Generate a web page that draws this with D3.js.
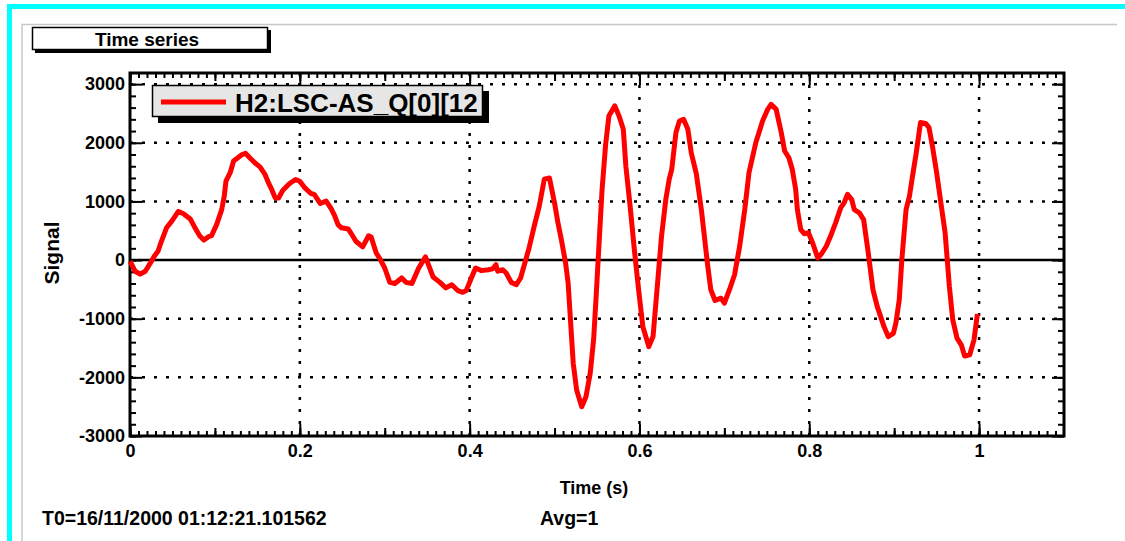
<!DOCTYPE html>
<html>
<head>
<meta charset="utf-8">
<script src="https://cdn.jsdelivr.net/npm/d3@7"></script>
<style>
  body { margin: 0; background: #fff; }
  text { font-family: "Liberation Sans", Arial, sans-serif; font-weight: bold; }
</style>
</head>
<body>
<div id="chart"></div>
<script>
// time series (seconds, signal)
var times = [0, 0.006, 0.012, 0.018, 0.024, 0.029, 0.033, 0.037, 0.043, 0.049,
  0.057, 0.063, 0.071, 0.076, 0.082, 0.087, 0.092, 0.096, 0.102, 0.108,
  0.111, 0.113, 0.118, 0.122, 0.127, 0.132, 0.136, 0.141, 0.147, 0.153,
  0.159, 0.163, 0.167, 0.171, 0.175, 0.180, 0.188, 0.195, 0.200, 0.206,
  0.213, 0.217, 0.224, 0.231, 0.237, 0.241, 0.245, 0.249, 0.257, 0.260,
  0.266, 0.274, 0.281, 0.284, 0.290, 0.295, 0.300, 0.306, 0.312, 0.320,
  0.325, 0.332, 0.340, 0.348, 0.357, 0.365, 0.372, 0.379, 0.386, 0.392,
  0.396, 0.402, 0.407, 0.414, 0.422, 0.427, 0.431, 0.433, 0.439, 0.443,
  0.449, 0.455, 0.460, 0.465, 0.470, 0.476, 0.482, 0.488, 0.494, 0.500,
  0.504, 0.508, 0.513, 0.516, 0.519, 0.522, 0.526, 0.532, 0.537, 0.542,
  0.546, 0.549, 0.552, 0.556, 0.560, 0.564, 0.571, 0.576, 0.581, 0.584,
  0.589, 0.594, 0.599, 0.604, 0.611, 0.616, 0.620, 0.626, 0.631, 0.635,
  0.638, 0.643, 0.647, 0.652, 0.657, 0.661, 0.667, 0.673, 0.680, 0.684,
  0.689, 0.696, 0.700, 0.706, 0.712, 0.718, 0.724, 0.729, 0.737, 0.745,
  0.751, 0.755, 0.761, 0.767, 0.771, 0.776, 0.780, 0.784, 0.786, 0.790,
  0.794, 0.799, 0.804, 0.810, 0.815, 0.820, 0.825, 0.831, 0.837, 0.841,
  0.845, 0.850, 0.853, 0.859, 0.864, 0.869, 0.875, 0.880, 0.888, 0.893,
  0.899, 0.902, 0.906, 0.909, 0.914, 0.918, 0.921, 0.926, 0.931, 0.937,
  0.941, 0.945, 0.950, 0.955, 0.960, 0.965, 0.969, 0.974, 0.979, 0.983,
  0.989, 0.994, 0.998];
var signal = [-20, -190, -240, -190, -50, 75, 150, 320, 550, 660,
  830, 790, 700, 565, 415, 340, 395, 415, 605, 860,
  1090, 1345, 1490, 1690, 1745, 1800, 1820, 1745, 1660, 1590,
  1460, 1320, 1200, 1060, 1060, 1190, 1305, 1375, 1345, 1230,
  1135, 1120, 965, 1005, 875, 760, 605, 550, 530, 465,
  320, 225, 415, 395, 120, 5, -135, -380, -400, -305,
  -380, -400, -135, 55, -290, -380, -475, -420, -520, -550,
  -520, -305, -135, -180, -165, -150, -80, -190, -165, -220,
  -380, -420, -305, -50, 205, 575, 920, 1380, 1400, 975,
  635, 350, -50, -390, -1075, -1760, -2215, -2500, -2330, -1930,
  -1360, -620, 175, 1205, 1945, 2455, 2630, 2455, 2230, 1600,
  920, 175, -505, -1135, -1475, -1305, -620, 405, 1030, 1375,
  1545, 2175, 2370, 2400, 2230, 1830, 1470, 850, -50, -505,
  -690, -650, -735, -505, -250, 235, 860, 1490, 2000, 2370,
  2570, 2655, 2570, 2175, 1860, 1745, 1545, 1205, 860, 520,
  450, 465, 290, 35, 120, 235, 405, 635, 890, 975,
  1120, 1030, 860, 805, 690, 175, -505, -790, -1135, -1305,
  -1250, -1075, -675, 5, 860, 1090, 1375, 1830, 2345, 2330,
  2260, 1945, 1490, 975, 465, -450, -1020, -1330, -1445, -1635,
  -1615, -1360, -920];

var xTicks = [0, 0.2, 0.4, 0.6, 0.8, 1];
var yTicks = [-3000, -2000, -1000, 0, 1000, 2000, 3000];
var xDomain = [0, 1.1];
var yDomain = [-3000, 3190];

var seriesName = "H2:LSC-AS_Q[0][12";
var titleText = "Time series";
var xTitle = "Time (s)";
var yTitle = "Signal";
var t0Text = "T0=16/11/2000 01:12:21.101562";
var avgText = "Avg=1";

var width = 1125,
    height = 541;
// frame edges (window.top is read-only, so no "top" here)
var frameL = 130, frameR = 1064, frameT = 73, frameB = 436;

var svg = d3.select("#chart").append("svg")
  .attr("width", width)
  .attr("height", height)
  .style("display", "block");

svg.append("rect").attr("width", width).attr("height", height).attr("fill", "#fff");

// canvas borders
svg.append("rect").attr("x", 7).attr("y", 4).attr("width", width - 7).attr("height", 5).attr("fill", "#00ffff");
svg.append("rect").attr("x", 7).attr("y", 4).attr("width", 5).attr("height", height - 4).attr("fill", "#00ffff");
svg.append("path")
  .attr("d", "M22," + height + "V24.5H1117")
  .attr("fill", "none").attr("stroke", "#c8c8c8").attr("stroke-width", 1.5);

var x = d3.scaleLinear().domain(xDomain).range([frameL, frameR]);
var y = d3.scaleLinear().domain(yDomain).range([frameB, frameT]);

// grid
var grid = svg.append("g");
grid.selectAll(".gx")
  .data(xTicks.filter(function(d) { return d > 0; }))
  .enter().append("line")
  .attr("x1", function(d) { return x(d); })
  .attr("x2", function(d) { return x(d); })
  .attr("y1", frameT).attr("y2", frameB)
  .attr("stroke", "#000").attr("stroke-width", 2.5).attr("stroke-dasharray", "3,9");
grid.selectAll(".gy")
  .data(yTicks.filter(function(d) { return d !== 0 && d > yDomain[0]; }))
  .enter().append("line")
  .attr("y1", function(d) { return y(d); })
  .attr("y2", function(d) { return y(d); })
  .attr("x1", frameL).attr("x2", frameR)
  .attr("stroke", "#000").attr("stroke-width", 2.5).attr("stroke-dasharray", "3,9");
svg.append("line")
  .attr("x1", frameL).attr("x2", frameR)
  .attr("y1", y(0)).attr("y2", y(0))
  .attr("stroke", "#000").attr("stroke-width", 2.5);

// axes, ticks inside on all four sides
var minorY = d3.range(-3000, 3200, 200);
var minorX = d3.range(0, 1.1, 0.01);
var midX = d3.range(0, 1.1, 0.1);
var fmt = function(d) { return String(d); };

function styleAxis(g) {
  g.select(".domain").remove();
  g.selectAll("line").attr("stroke", "#000").attr("stroke-width", 2);
  g.selectAll("text").attr("font-size", 18).attr("fill", "#000")
    .attr("font-family", "'Liberation Sans', Arial, sans-serif").attr("font-weight", "bold");
}

svg.append("g").attr("transform", "translate(" + frameL + ",0)")
  .call(d3.axisLeft(y).tickValues(minorY).tickSize(-6).tickFormat("")).call(styleAxis);
svg.append("g").attr("transform", "translate(" + frameL + ",0)")
  .call(d3.axisLeft(y).tickValues(yTicks).tickSize(-12).tickPadding(5).tickFormat(fmt)).call(styleAxis);
svg.append("g").attr("transform", "translate(" + frameR + ",0)")
  .call(d3.axisRight(y).tickValues(minorY).tickSize(-6).tickFormat("")).call(styleAxis);
svg.append("g").attr("transform", "translate(" + frameR + ",0)")
  .call(d3.axisRight(y).tickValues(yTicks).tickSize(-12).tickFormat("")).call(styleAxis);

svg.append("g").attr("transform", "translate(0," + frameB + ")")
  .call(d3.axisBottom(x).tickValues(minorX).tickSize(-5).tickFormat("")).call(styleAxis);
svg.append("g").attr("transform", "translate(0," + frameB + ")")
  .call(d3.axisBottom(x).tickValues(midX).tickSize(-8).tickFormat("")).call(styleAxis);
svg.append("g").attr("transform", "translate(0," + frameB + ")")
  .call(d3.axisBottom(x).tickValues(xTicks).tickSize(-12).tickPadding(8).tickFormat(fmt)).call(styleAxis);
svg.append("g").attr("transform", "translate(0," + frameT + ")")
  .call(d3.axisTop(x).tickValues(minorX).tickSize(-5).tickFormat("")).call(styleAxis);
svg.append("g").attr("transform", "translate(0," + frameT + ")")
  .call(d3.axisTop(x).tickValues(midX).tickSize(-8).tickFormat("")).call(styleAxis);
svg.append("g").attr("transform", "translate(0," + frameT + ")")
  .call(d3.axisTop(x).tickValues(xTicks).tickSize(-12).tickFormat("")).call(styleAxis);

// frame
svg.append("rect")
  .attr("x", frameL).attr("y", frameT)
  .attr("width", frameR - frameL).attr("height", frameB - frameT)
  .attr("fill", "none").attr("stroke", "#000").attr("stroke-width", 3);

// the trace
var line = d3.line()
  .x(function(d, i) { return x(times[i]); })
  .y(function(d) { return y(d); });

svg.append("path")
  .datum(signal)
  .attr("d", line)
  .attr("fill", "none")
  .attr("stroke", "#ff0000")
  .attr("stroke-width", 5)
  .attr("stroke-linejoin", "round");

// title box
svg.append("rect").attr("x", 35).attr("y", 30).attr("width", 236).attr("height", 23).attr("fill", "#000");
svg.append("rect").attr("x", 32.5).attr("y", 27.5).attr("width", 235).attr("height", 22)
  .attr("fill", "#fff").attr("stroke", "#000").attr("stroke-width", 1.5);
svg.append("text").attr("x", 147).attr("y", 46).attr("text-anchor", "middle")
  .attr("font-size", 19).text(titleText);

// legend
var legend = svg.append("g");
legend.append("rect").attr("x", 158).attr("y", 91).attr("width", 331).attr("height", 32).attr("fill", "#000");
legend.append("rect").attr("x", 152.5).attr("y", 85.5).attr("width", 330).attr("height", 31)
  .attr("fill", "#e6e6e6").attr("stroke", "#000").attr("stroke-width", 1.5);
svg.append("clipPath").attr("id", "legclip")
  .append("rect").attr("x", 153).attr("y", 86).attr("width", 329).attr("height", 30);
legend.append("line").attr("x1", 161).attr("x2", 226).attr("y1", 102).attr("y2", 102)
  .attr("stroke", "#ff0000").attr("stroke-width", 5);
legend.append("text").attr("x", 235).attr("y", 112).attr("font-size", 26)
  .attr("clip-path", "url(#legclip)").text(seriesName);

// axis titles
svg.append("text").attr("x", 594).attr("y", 494).attr("text-anchor", "middle")
  .attr("font-size", 18).text(xTitle);
svg.append("text").attr("transform", "translate(59,253) rotate(-90)")
  .attr("text-anchor", "middle").attr("font-size", 21).text(yTitle);

// footer
svg.append("text").attr("x", 42).attr("y", 525).attr("font-size", 19.5).text(t0Text);
svg.append("text").attr("x", 540).attr("y", 525).attr("font-size", 19.5).text(avgText);
</script>
</body>
</html>
